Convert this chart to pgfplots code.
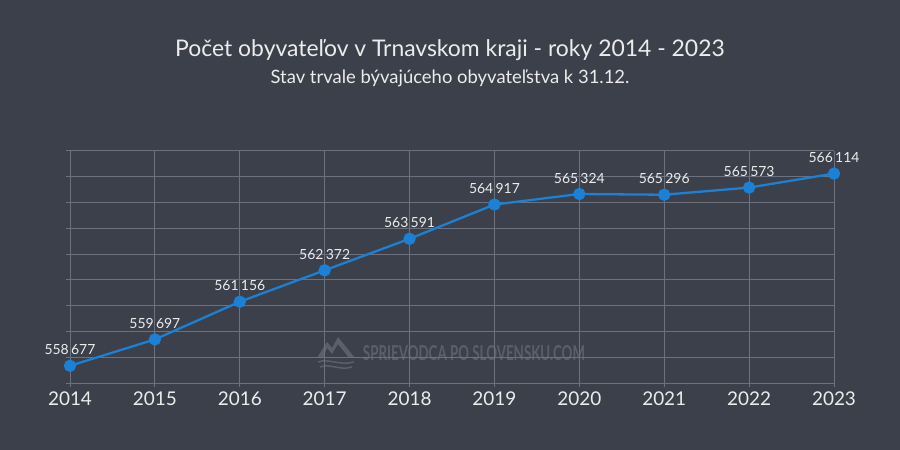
\documentclass[border=0pt]{standalone}
\usepackage{pgfplots}
\pgfplotsset{compat=1.18}
\usepackage{fontspec}
\setmainfont{Lato}
\definecolor{bg}{RGB}{59,64,75}
\definecolor{gridc}{RGB}{108,113,125}
\definecolor{lineblue}{RGB}{28,128,212}
\definecolor{txt}{RGB}{236,236,236}
\definecolor{wm}{RGB}{90,95,107}
\begin{document}
\begin{tikzpicture}[x=1bp,y=1bp]
\fill[bg] (0,0) rectangle (900,450);
\node[txt, font=\fontsize{23}{27}\selectfont, anchor=base] at (450,393) {Počet obyvateľov v Trnavskom kraji - roky 2014 - 2023};
\node[txt, font=\fontsize{18.5}{22}\selectfont, anchor=base] at (450,366) {Stav trvale bývajúceho obyvateľstva k 31.12.};
% watermark
\node[wm, inner sep=0pt] at (474,97) {\resizebox{222bp}{15bp}{\bfseries SPRIEVODCA PO SLOVENSKU.COM}};
\fill[wm] (317,92) -- (327,108) -- (332,102) -- (338,113) -- (355,92) -- (349,92) -- (338,106) -- (332,96) -- (327,102) -- (323,92) -- cycle;
\draw[wm, line width=1.5bp] (318,88) .. controls (328,92) and (340,84) .. (354,88);
\draw[wm, line width=1.5bp] (320,83) .. controls (330,87) and (340,79) .. (352,83);
\begin{axis}[
  at={(70bp,66.7bp)}, anchor=south west,
  scale only axis, width=764bp, height=232.6bp,
  xmin=2014, xmax=2023, ymin=558000, ymax=567000,
  clip=false,
  scaled y ticks=false, scaled x ticks=false,
  xtick={2014,2015,2016,2017,2018,2019,2020,2021,2022,2023},
  ytick={558000,559000,560000,561000,562000,563000,564000,565000,566000,567000},
  yticklabels={},
  xticklabel={\pgfmathprintnumber[1000 sep={}]{\tick}},
  xticklabel style={txt, font=\fontsize{19}{22}\selectfont, inner sep=0pt, anchor=north, yshift=-4bp},
  /pgf/number format/assume math mode=true,
  axis line style={draw=none},
  grid=major,
  major grid style={gridc, line width=1bp},
  tick style={gridc, line width=1bp},
  tick align=outside, major tick length=4bp,
  xtick pos=bottom, ytick pos=left,
  point meta=y,
  nodes near coords={\pgfmathprintnumber[fixed, precision=0, 1000 sep={\,}]{\pgfplotspointmeta}},
  every node near coord/.append style={txt, font=\fontsize{14}{16}\selectfont, anchor=base, inner sep=0pt, yshift=11bp},
]
\addplot[lineblue, line width=2.3bp, mark=*, mark size=5bp, mark options={fill=lineblue, draw=lineblue}] coordinates {
(2014,558677) (2015,559697) (2016,561156) (2017,562372) (2018,563591)
(2019,564917) (2020,565324) (2021,565296) (2022,565573) (2023,566114)
};
\end{axis}
\end{tikzpicture}
\end{document}
